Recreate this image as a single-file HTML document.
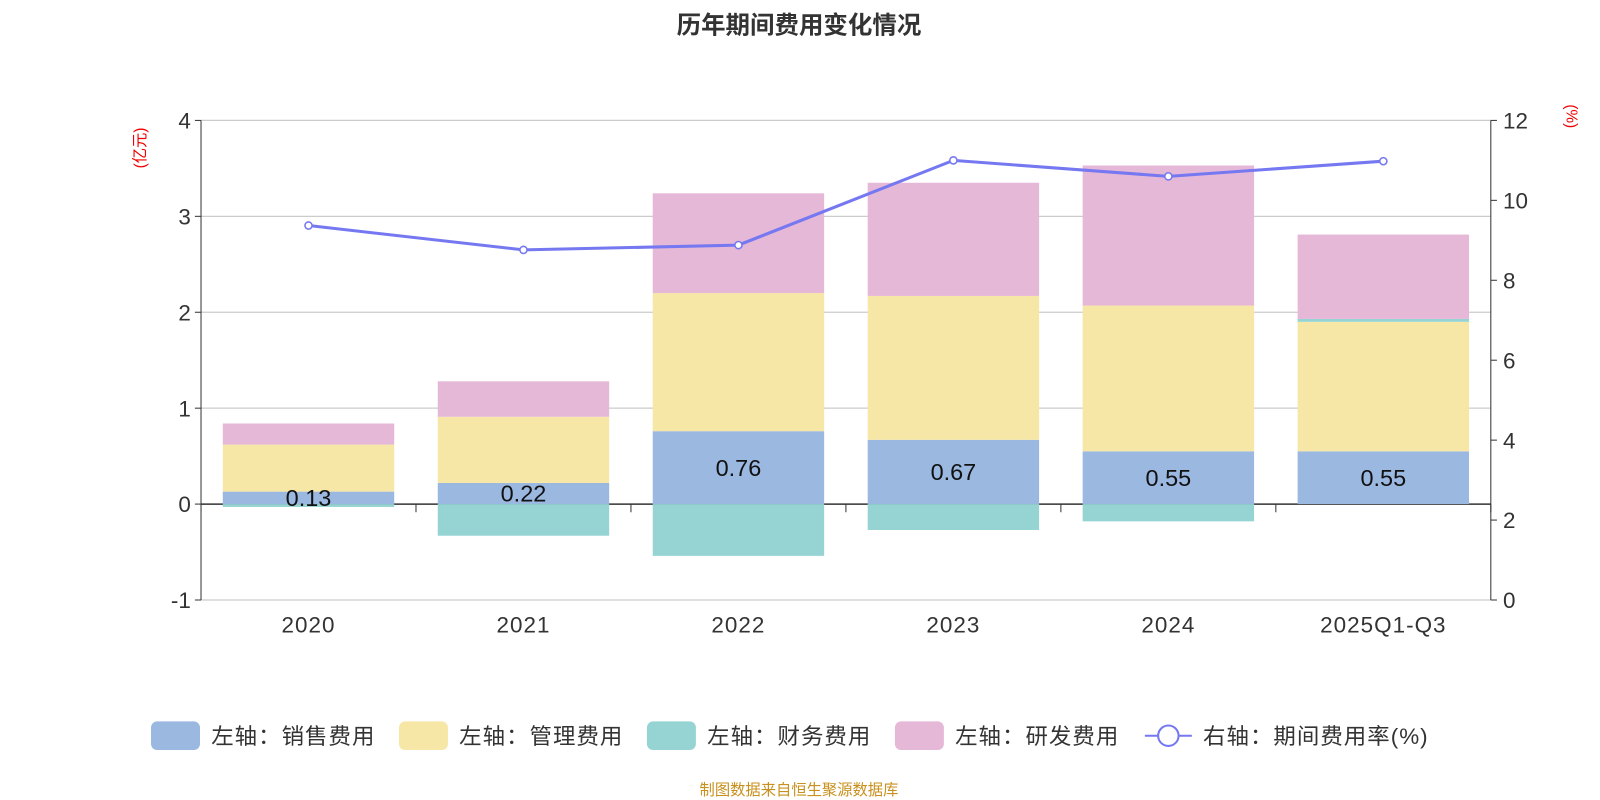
<!DOCTYPE html>
<html><head><meta charset="utf-8"><style>
body{margin:0;background:#fff;}
svg{display:block;font-family:"Liberation Sans","Noto Sans CJK SC",sans-serif;}
</style></head><body>
<svg id="c" width="1600" height="800" viewBox="0 0 1568 784" preserveAspectRatio="none">
<text x="783" y="33" text-anchor="middle" font-size="24" font-weight="bold" fill="#333">历年期间费用变化情况</text>
<text transform="translate(142,145) rotate(-90)" text-anchor="middle" font-size="15" fill="#e00">(亿元)</text>
<text transform="translate(1535,114) rotate(90)" text-anchor="middle" font-size="15" fill="#e00">(%)</text>
<g id="g"></g>
<text x="783" y="779" text-anchor="middle" font-size="15" fill="#c8901e">制图数据来自恒生聚源数据库</text>
</svg>
<script>
const categories=["2020","2021","2022","2023","2024","2025Q1-Q3"];
const sales=[0.13,0.22,0.76,0.67,0.55,0.55];
const mgmt=[0.49,0.69,1.44,1.50,1.52,1.35];
const finance=[-0.03,-0.33,-0.54,-0.27,-0.18,0.03];
const rnd=[0.22,0.37,1.04,1.18,1.46,0.88];
const rate=[9.37,8.76,8.88,11.0,10.6,10.98];
const leftTicks=[-1,0,1,2,3,4];
const rightTicks=[0,2,4,6,8,10,12];
const NS="http://www.w3.org/2000/svg",g=document.getElementById('g');
const X0=197,X1=1461,band=(X1-X0)/categories.length,bw=168;
const yL=v=>494-v*94, yR=v=>588-v*(470/12), xc=i=>X0+band*(i+0.5);
function el(t,a,p){const e=document.createElementNS(NS,t);for(const k in a)e.setAttribute(k,a[k]);(p||g).appendChild(e);return e;}
leftTicks.forEach(v=>{
 const l=el('line',{x1:X0,x2:X1,y1:yL(v),y2:yL(v),stroke:v===0?'#333':'#ccc','stroke-width':v===0?1.5:1.2});
 
 
 el('line',{x1:X0-6,x2:X0,y1:yL(v),y2:yL(v),stroke:'#333'});
 const t=el('text',{x:X0-10,y:yL(v)+8,'text-anchor':'end','font-size':22,fill:'#333'});t.textContent=v;
 
 
});
rightTicks.forEach(v=>{
 el('line',{x1:X1,x2:X1+6,y1:yR(v),y2:yR(v),stroke:'#333'});
 const t=el('text',{x:X1+12,y:yR(v)+8,'font-size':22,fill:'#333'});t.textContent=v;
 
 
});
el('line',{x1:X0,x2:X0,y1:118,y2:588,stroke:'#333'});
el('line',{x1:X1,x2:X1,y1:118,y2:588,stroke:'#333'});
for(let k=0;k<=categories.length;k++)el('line',{x1:X0+band*k,x2:X0+band*k,y1:494,y2:502,stroke:'#333'});
categories.forEach((c,i)=>{
 const t=el('text',{x:xc(i),y:620,'text-anchor':'middle','font-size':22,'letter-spacing':1,fill:'#333'});t.textContent=c;
 
 
 let pos=0,neg=0;
 const series=[[sales,'#9bb8e1','bar-sales'],[mgmt,'#f7e7a6','bar-management'],[finance,'#96d4d4','bar-finance'],[rnd,'#e6b8d8','bar-rnd']];
 series.forEach(([arr,col,name])=>{
  const v=arr[i];let a,b;
  if(v>=0){a=pos;b=pos+v;pos=b;}else{a=neg;b=neg+v;neg=b;}
  const r=el('rect',{x:xc(i)-bw/2,y:Math.min(yL(a),yL(b)),width:bw,height:Math.abs(yL(a)-yL(b)),fill:col});
  
  
 });
 const lb=el('text',{x:xc(i),y:yL(sales[i]/2)+8,'text-anchor':'middle','font-size':23,fill:'#111'});lb.textContent=sales[i].toFixed(2);
 
 
});
const pl=el('polyline',{points:rate.map((v,i)=>xc(i)+','+yR(v)).join(' '),fill:'none',stroke:'#7578f0','stroke-width':3});


rate.forEach((v,i)=>{const c=el('circle',{cx:xc(i),cy:yR(v),r:3.5,fill:'#fff',stroke:'#7578f0','stroke-width':1.5});
 
 });
const leg=[['左轴：销售费用','#9bb8e1',148],['左轴：管理费用','#f7e7a6',391],['左轴：财务费用','#96d4d4',634],['左轴：研发费用','#e6b8d8',877]];
leg.forEach(([t,c,x])=>{
 const r=el('rect',{x:x,y:707,width:48,height:28,rx:6,fill:c});
 
 
 const tx=el('text',{x:x+59,y:729,'font-size':22,'letter-spacing':1,fill:'#333'});tx.textContent=t;
 
 
});
el('line',{x1:1122,x2:1168,y1:721,y2:721,stroke:'#7578f0','stroke-width':2});
el('circle',{cx:1145,cy:721,r:10,fill:'#fff',stroke:'#7578f0','stroke-width':2});
const lt=el('text',{x:1179,y:729,'font-size':22,'letter-spacing':1,fill:'#333'});lt.textContent='右轴：期间费用率(%)';


</script>
</body></html>
